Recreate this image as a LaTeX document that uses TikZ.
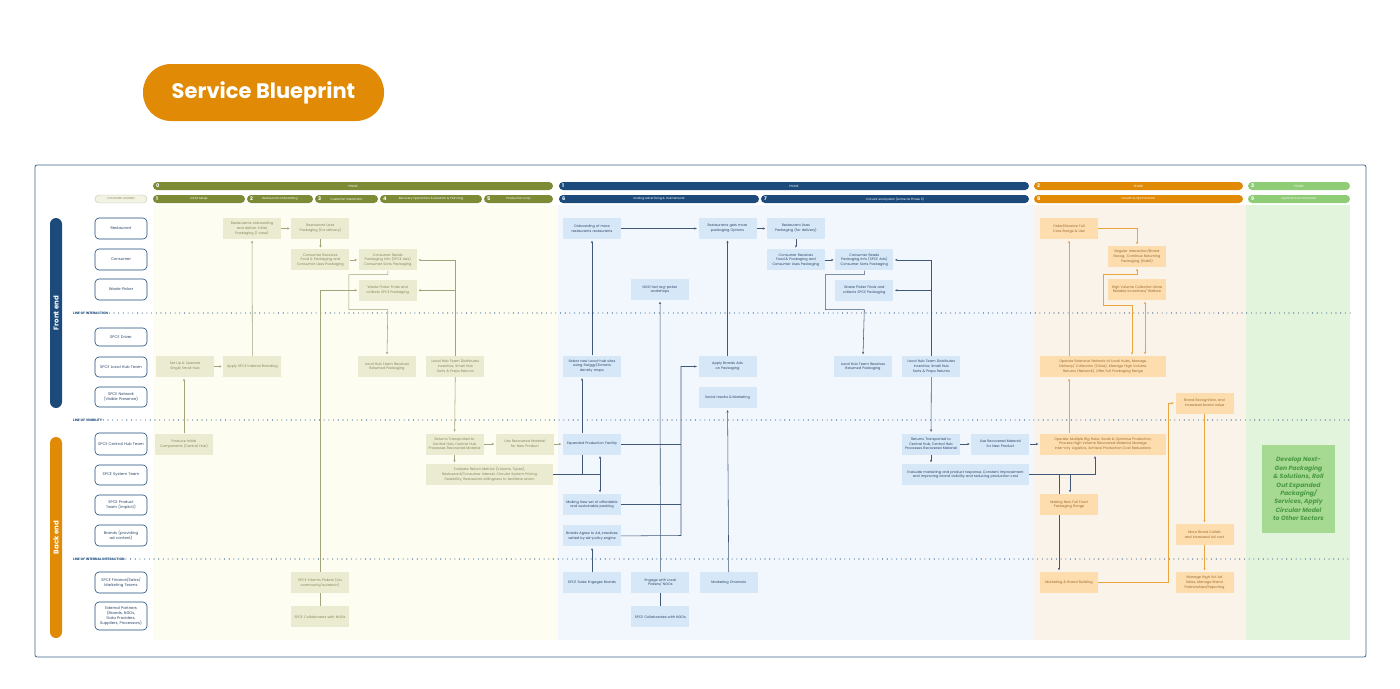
\documentclass[tikz,border=0pt]{standalone}
\usepackage{fontspec}
\setmainfont{Poppins}
\usetikzlibrary{positioning}
\usetikzlibrary{arrows.meta}
\hyphenpenalty=10000
\exhyphenpenalty=10000

\definecolor{olv}{HTML}{7D8A36}
\definecolor{olvbg}{HTML}{FDFDF1}
\definecolor{olvbox}{HTML}{EBEBD2}
\definecolor{olvtxt}{HTML}{86865C}
\definecolor{olvln}{HTML}{A3A37C}
\definecolor{nvy}{HTML}{1C4A7B}
\definecolor{nvybg}{HTML}{F1F7FD}
\definecolor{nvybox}{HTML}{D6E7F7}
\definecolor{nvytxt}{HTML}{2A4566}
\definecolor{nvyln}{HTML}{405877}
\definecolor{org}{HTML}{E18A05}
\definecolor{orgbg}{HTML}{FAF3EA}
\definecolor{orgbox}{HTML}{FDDCAE}
\definecolor{orgtxt}{HTML}{9A6B2E}
\definecolor{orgln}{HTML}{EAA53E}
\definecolor{grn}{HTML}{8ECC76}
\definecolor{grnbg}{HTML}{E3F4DC}
\definecolor{grnbox}{HTML}{A6DA92}
\definecolor{grntxt}{HTML}{4C9A44}

\begin{document}
\begin{tikzpicture}[x=1pt,y=-1pt,
  box/.style={minimum width=58pt, minimum height=21pt, text width=54pt, inner sep=0pt, align=center, font=\fontsize{3.45}{4.7}\selectfont},
  obox/.style={box, fill=olvbox, text=olvtxt},
  nbox/.style={box, fill=nvybox, text=nvytxt},
  rbox/.style={box, fill=orgbox, text=orgtxt},
  wide/.style={minimum width=127pt, text width=121pt},
  lane/.style={draw=nvy, line width=0.6pt, rounded corners=4pt, fill=white, minimum width=52pt, minimum height=21pt, text width=47pt, align=center, inner sep=0pt, text=nvytxt, font=\fontsize{3.8}{4.8}\selectfont},
  bar/.style={rounded corners=4pt, minimum height=8pt, inner sep=0pt, text=white, font=\fontsize{3}{3}\selectfont},
  num/.style={inner sep=0pt, text=white, font=\fontsize{5}{5}\bfseries},
  side/.style={rounded corners=6pt, minimum height=12pt, inner sep=0pt, rotate=90, text=white, font=\fontsize{7}{7}\bfseries},
  linelbl/.style={anchor=west, inner sep=1pt, text=nvy, font=\fontsize{3.3}{3.5}\bfseries},
  dots/.style={nvy, line width=1.1pt, dash pattern=on 0pt off 4.7pt, line cap=round},
  ol/.style={olvln, line width=0.55pt},
  nl/.style={nvyln, line width=0.55pt},
  rl/.style={orgln, line width=0.6pt},
  tip/.style={-{Stealth[length=2.5pt,width=2.2pt]}, shorten >=1.5pt},
  tips/.style={{Stealth[length=2.5pt,width=2.2pt]}-{Stealth[length=2.5pt,width=2.2pt]}, shorten >=1.5pt, shorten <=1.5pt}]
\useasboundingbox (0,0) rectangle (1400,688);

% title
\node[fill=org, rounded corners=28pt, minimum width=241pt, minimum height=57pt, text=white, font=\fontsize{21}{24}\bfseries] (ttl) at (263.5,92.5) {Service Blueprint};

% frame and phase backgrounds
\draw[nvy!85, line width=0.8pt, rounded corners=2pt] (35,165) rectangle (1366,657);
\fill[olvbg] (153,205) rectangle (558,640);
\fill[nvybg] (558,205) rectangle (1033,640);
\fill[orgbg] (1033,205) rectangle (1246,640);
\fill[grnbg] (1246,205) rectangle (1350,640);

% phase bars
\node[bar, fill=olv, minimum width=400pt] (ph0) at (353,186) {PHASE};
\node[bar, fill=nvy, minimum width=470pt] (ph1) at (794,186) {PHASE};
\node[bar, fill=org, minimum width=209pt] (ph2) at (1138.5,186) {PHASE};
\node[bar, fill=grn, minimum width=102pt] (ph3) at (1299,186) {PHASE};
\node[num, right=3pt of ph0.west] (n0) {0};
\node[num, right=3pt of ph1.west] (n1) {1};
\node[num, right=3pt of ph2.west] (n2) {2};
\node[num, right=3pt of ph3.west] (n3) {3};

% step bars
\node[draw=olvtxt!50, fill=olvbox!60, rounded corners=4pt, minimum width=52pt, minimum height=8pt, inner sep=0pt, text=olvtxt, font=\fontsize{2.8}{3}\selectfont] (cj) at (121,199) {CUSTOMER JOURNEY};
\node[bar, fill=olv, minimum width=92pt] (s1) at (199,199) {Initial Setup};
\node[bar, fill=olv, minimum width=66pt] (s2) at (280,199) {Restaurant Onboarding};
\node[bar, fill=olv, minimum width=63pt] (s3) at (346.5,199) {Customer Interaction};
\node[bar, fill=olv, minimum width=102pt] (s4) at (431,199) {Recovery Operations Evaluation \& Planning};
\node[bar, fill=olv, minimum width=69pt] (s5) at (518.5,199) {Production Loop};
\node[bar, fill=nvy, minimum width=200pt] (s6) at (659,199) {Scaling Advertising \& Hub Network};
\node[bar, fill=nvy, minimum width=268pt] (s7) at (895,199) {Circular ecosystem (same as Phase 0)};
\node[bar, fill=org, minimum width=209pt] (s8) at (1138.5,199) {Growth \& Optimization};
\node[bar, fill=grn, minimum width=102pt] (s9) at (1299,199) {Expansion \& Innovation};
\node[num, right=3pt of s1.west] (t1) {1};
\node[num, right=3pt of s2.west] (t2) {2};
\node[num, right=3pt of s3.west] (t3) {3};
\node[num, right=3pt of s4.west] (t4) {4};
\node[num, right=3pt of s5.west] (t5) {5};
\node[num, right=3pt of s6.west] (t6) {6};
\node[num, right=3pt of s7.west] (t7) {7};
\node[num, right=3pt of s8.west] (t8) {8};
\node[num, right=3pt of s9.west] (t9) {9};

% side bars
\node[side, fill=nvy, minimum width=190pt] (fe) at (56,313) {Front end};
\node[side, fill=org, minimum width=201pt] (be) at (56,537.5) {Back end};

% lanes
\node[lane] (lrest) at (121,228.5) {Restaurant};
\node[lane] (lcons) at (121,259.5) {Consumer};
\node[lane] (lwaste) at (121,289.5) {Waste Picker};
\node[lane, minimum height=18pt] (ldrv) at (121,337) {SPCE Driver};
\node[lane, minimum height=20pt] (llocal) at (121,367) {SPCE Local Hub Team};
\node[lane, minimum height=20pt] (lnet) at (121,397) {SPCE Network (Visible Presence)};
\node[lane, minimum height=22pt] (lcent) at (121,444) {SPCE Central Hub Team};
\node[lane, minimum height=20pt] (lsys) at (121,475) {SPCE System Team};
\node[lane, minimum height=20pt] (lprod) at (121,505) {SPCE Product Team (implicit)};
\node[lane] (lbrand) at (121,535.5) {Brands (providing ad content)};
\node[lane] (lfin) at (121,582.5) {SPCE Finance/Sales/ Marketing Teams};
\node[lane, minimum height=28pt] (lext) at (121,616) {External Partners (Brands, NGOs, Data Providers, Suppliers, Processors)};

% lines of interaction
\node[linelbl] (loi) at (72,313) {LINE OF INTERACTION};
\node[linelbl] (lov) at (72,420) {LINE OF VISIBILITY};
\node[linelbl] (lii) at (72,559) {LINE OF INTERNAL INTERACTION};
\draw[dots] (loi.east) -- (loi.east -| ph3.east);
\draw[dots] (lov.east) -- (lov.east -| ph3.east);
\draw[dots] (lii.east) -- (lii.east -| ph3.east);

% phase 0
\node[obox] (a1) at (252,228.5) {Restaurants onboarding and deliver Initial Packaging (1 case)};
\node[obox, right=10pt of a1] (a2) {Restaurant Uses Packaging (for delivery)};
\node[obox, below=10pt of a2] (a3) {Consumer Receives Food \& Packaging and Consumer Uses Packaging};
\node[obox, right=9pt of a3] (a4) {Consumer Reads Packaging Info (SPCE Ads) Consumer Sorts Packaging};
\node[obox, below=9pt of a4] (a5) {Waste Picker Finds and collects SPCE Packaging};
\node[obox] (b1) at (185,366.5) {Set Up \& Operate Single Small Hub};
\node[obox, right=9pt of b1] (b2) {Apply SPCE Internal Branding};
\node[obox] (b3) at (387,366.5) {Local Hub Team Receives Returned Packaging};
\node[obox, right=10pt of b3] (b4) {Local Hub Team Distributes Incentive, Small Hub Sorts \& Preps Returns};
\node[obox] (c1) at (184,444) {Produce Initial Components (Central Hub)};
\node[obox] (c2) at (454.5,444) {Returns Transported to Central Hub, Central Hub Processes Recovered Material};
\node[obox, right=12pt of c2] (c3) {Use Recovered Material for New Product};
\node[obox, wide] (c4) at (489.5,474.5) {Evaluate Return Metrics (Volume, Types), Restaurant/Consumer Interest, Circular System Pricing Feasibility, Restaurant willingness to facilitate return};
\node[obox] (d1) at (320,582.5) {SPCE Informs Pickers (via community/outreach)};
\node[obox, below=13pt of d1] (d2) {SPCE Collaborates with NGOs};

% phase 1
\node[nbox] (e1) at (592,228.5) {Onboarding of more restaurants restaurants};
\node[nbox] (e2) at (727.5,228.5) {Restaurants gets more packaging Options};
\node[nbox, right=10pt of e2] (e3) {Restaurant Uses Packaging (for delivery)};
\node[nbox, below=10pt of e3] (e4) {Consumer Receives Food \& Packaging and Consumer Uses Packaging};
\node[nbox, right=10pt of e4] (e5) {Consumer Reads Packaging Info (SPCE Ads) Consumer Sorts Packaging};
\node[nbox] (e6) at (660,289.5) {NGO-led rag-picker workshops};
\node[nbox, below=9pt of e5] (e7) {Waste Picker Finds and collects SPCE Packaging};
\node[nbox] (f1) at (592,366) {Select new Local-hub sites using Swiggy/Zomato density maps};
\node[nbox] (f2) at (727.5,366.5) {Apply Brands Ads on Packaging};
\node[nbox, below=10pt of f2] (f3) {Social media \& Marketing};
\node[nbox] (f4) at (863,366.5) {Local Hub Team Receives Returned Packaging};
\node[nbox, right=10pt of f4] (f5) {Local Hub Team Distributes Incentive, Small Hub Sorts \& Preps Returns};
\node[nbox] (g1) at (592,444) {Expanded Production Facility};
\node[nbox] (g2) at (931,444) {Returns Transported to Central Hub, Central Hub Processes Recovered Material};
\node[nbox, right=11pt of g2] (g3) {Use Recovered Material for New Product};
\node[nbox, wide] (g4) at (965.5,474.5) {Evaluate marketing and product response, Constant improvement and improving brand visibility and reducing production cost};
\node[nbox] (h1) at (592,504.5) {Making New set of affordable and sustainable packing};
\node[nbox, below=10pt of h1] (h2) {Brands Agree to Ad, creatives vetted by ad-policy engine};
\node[nbox] (k1) at (592,582.5) {SPCE Sales Engages Brands};
\node[nbox, right=10pt of k1] (k2) {Engage with Local Pickers/ NGOs};
\node[nbox, right=10pt of k2] (k3) {Marketing Channels};
\node[nbox, below=13pt of k2] (k4) {SPCE Collaborates with NGOs};

% phase 2
\node[rbox] (m1) at (1069,228.5) {Order/Receive Full Core Range \& Use};
\node[rbox] (m2) at (1137,256.5) {Regular Interaction/Brand Recog. Continue Returning Packaging (Habit)};
\node[rbox] (m3) at (1137,289.5) {High Volume Collection More Reliable Incentives/ Welfare};
\node[rbox, wide, minimum width=126pt] (na) at (1103,366.5) {Operate Extensive Network of Local Hubs, Manage, Delivery/ Collection (Cities), Manage High Volume Returns (Network), Offer Full Packaging Range};
\node[rbox] (nb) at (1204.5,403) {Brand Recognition, and increased brand value};
\node[rbox, wide, minimum width=126pt] (p1) at (1103,444) {Operate Multiple Big Hubs, Scale \& Optimise Production, Process High Volume Recovered Material, Manage Inter-city Logistics, Achieve Production Cost Reductions};
\node[rbox] (p2) at (1069,504.5) {Making New Full Food Packaging Range};
\node[rbox] (p3) at (1204.5,534.5) {More Brand Collab and increased Ad cost};
\node[rbox] (q1) at (1069,582.5) {Marketing \& Brand Building};
\node[rbox] (q2) at (1204.5,582.5) {Manage High Vol Ad Sales, Manage Brand Partnerships/Reporting};

% phase 3
\node[fill=grnbox, minimum width=73pt, minimum height=88pt, inner sep=0pt, align=center, text=grntxt, font=\fontsize{6.1}{8.4}\bfseries\itshape] (r1) at (1298.5,489) {Develop Next-\\Gen Packaging\\\& Solutions, Roll\\Out Expanded\\Packaging/\\Services, Apply\\Circular Model\\to Other Sectors};

% phase 0 connectors
\draw[ol,tip] (a1) -- (a2);
\draw[ol,tip] (a2) -- (a3);
\draw[ol,tip] (a3) -- (a4);
\draw[ol,tip] (b2) -- (a1);
\draw[ol,tip] (b1) -- (b2);
\draw[ol,tip] (c1.north) -- (c1.north |- b1.south);
\draw[ol,tip] (a4.south) -- ++(0,4) -- ++(-39,0) -- ++(0,35) -- ++(39,0) -- (b3.north);
\draw[ol,tip] (d1.north) |- (a5.west);
\draw[ol] (d2) -- (d1);
\draw[ol,tip] (b4.north) |- (a4.east);
\draw[ol,tip] (b4.north) |- (a5.east);
\draw[ol,tip] (b4) -- (c2);
\draw[ol,tip] (c2) -- (c3);
\draw[ol,tip] (c2.south) -- (c2.south |- c4.north);
\draw[ol,tip] (c3) -- (g1);

% phase 0 to phase 1
\coordinate (j1) at (600,474.5);
\coordinate (j2) at (582,474.5);
\draw[nl] (c4.east) -- (j1);
\draw[nl,tip] (j1) -- (j1 |- g1.south);
\draw[nl,tip] (j1) -- (j1 |- h1.north);
\draw[nl] (j2) -- (j2 |- g1.south);
\draw[nl,tip] (j2 |- g1.north) -- (j2 |- f1.south);

% phase 1 connectors
\draw[nl,tip] (e1) -- (e2);
\draw[nl,tip] (e2) -- (e3);
\draw[nl,tip] (e3) -- (e4);
\draw[nl,tip] (e4) -- (e5);
\draw[nl,tip] (f1) -- (e1);
\draw[nl,tip] (f2) -- (e2);
\draw[nl,tip] (k3) -- (f3);
\draw[nl,tip] (k2) -- (e6);
\draw[nl] (k4) -- (k2);
\draw[nl,tip] (k1) -- (h2);
\coordinate (bus) at (681,535.5);
\draw[nl,tip] (h2.east) -- (bus) |- (f2.west);
\draw[nl] (g1.east) -- (g1.east -| bus);
\draw[nl] (h1.east) -- (h1.east -| bus);
\draw[nl,tip] (e5.south) -- ++(0,4) -- ++(-39,0) -- ++(0,35) -- ++(39,0) -- (f4.north);
\draw[nl,tip] (f5.north) |- (e5.east);
\draw[nl,tip] (f5.north) |- (e7.east);
\draw[nl,tip] (f5) -- (g2);
\draw[nl,tip] (g2) -- (g3);
\draw[nl,tip] (g2.south) -- (g2.south |- g4.north);

% phase 1 to phase 2
\coordinate (j3) at (1095,474.5);
\coordinate (j4) at (1070,474.5);
\coordinate (j5) at (1059,474.5);
\draw[nl,tip] (g3) -- (p1);
\draw[nl] (g4.east) -- (j3);
\draw[nl,tip] (j3) -- (j3 |- p1.south);
\draw[nl,tip] (j4) -- (j4 |- p2.north);
\draw[nl] (j5) -- (j5 |- p2.north);
\draw[nl,tip] (j5 |- p2.south) -- (j5 |- q1.north);

% phase 2 connectors
\draw[rl,tip] (m1.east) -| (m2.north);
\draw[rl,tip] (na.north -| m1.south) -- (m1.south);
\draw[rl,tip] (p1.north -| m1.south) -- (na.south -| m1.south);
\draw[rl,tips] (m2.south) -- ++(0,7) -- ++(-34,0) -- ++(0,31) -- ++(29,0) -- ++(0,51);
\draw[rl,tips] ([xshift=8pt]m3.south) -- ([xshift=8pt]m3.south |- na.north);
\draw[rl,tip] (q1.east) -- ++(70,0) |- (nb.west);
\draw[rl,tip] (nb) -- (p3);
\draw[rl,tip] (p3) -- (q2);
\end{tikzpicture}
\end{document}
